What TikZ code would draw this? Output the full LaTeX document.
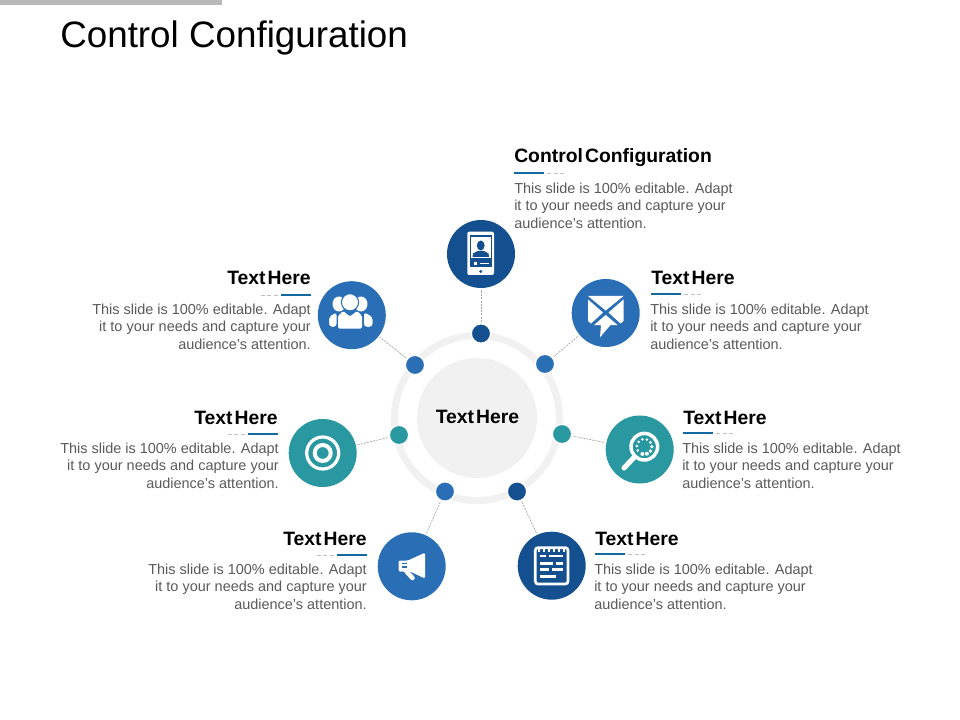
\documentclass[tikz,border=0pt]{standalone}
\usepackage{fontspec}
\setmainfont{Liberation Sans}
\usepackage{xcolor}
\usetikzlibrary{positioning}
\definecolor{navyblue}{HTML}{14508F}
\definecolor{midblue}{HTML}{2A6FB5}
\definecolor{tealblue}{HTML}{2A98A0}
\definecolor{softgray}{HTML}{F1F1F1}
\definecolor{bodygray}{HTML}{5A5A5A}
\tikzset{
    badge/.style={circle, minimum size=51pt, inner sep=0pt, fill=#1}, % the large icon discs
    knob/.style={circle, minimum size=14.5pt, inner sep=0pt, fill=#1, draw=white, line width=1pt}, % small dots on the ring
    link/.style={gray!70, line width=0.5pt, dash pattern=on 1.6pt off 0.8pt, shorten <=1pt, shorten >=1pt},
    headtext/.style={inner sep=0pt, font=\bfseries\fontsize{14.5}{17}\selectfont},
    bodytext/.style={inner sep=0pt, text=bodygray, font=\fontsize{10.85}{13.2}\selectfont},
    headrule/.style={navyblue!85!cyan, line width=0.9pt},
    headdash/.style={gray!50, line width=0.5pt, dash pattern=on 3pt off 2pt},
    icon/.style={white, draw=none},
}
\begin{document}
\begin{tikzpicture}[x=0.75pt,y=-0.75pt]
    \useasboundingbox (0,0) rectangle (960,720);
    \fill[white] (0,0) rectangle (960,720);
    \fill[gray!55] (0,0) rectangle (222,5);
    \node[inner sep=0pt, anchor=base west, font=\fontsize{27.6}{32}\selectfont] (title) at (60,47.5) {Control Configuration};

    % middle of the wheel
    \draw[softgray, line width=5.3pt] (477,418) circle (82.5);
    \node[circle, fill=softgray, minimum size=90pt, inner sep=0pt] (hub) at (477,418) {};
    \node[headtext, anchor=base] (hublabel) at (477.5,423.5) {Text\hspace{1.6pt}Here};

    % discs and dots
    \node[badge=navyblue] (phone) at (481,254) {};
    \node[badge=midblue] (mail) at (605.7,313) {};
    \node[badge=tealblue] (search) at (639.7,449.5) {};
    \node[badge=navyblue] (notes) at (551.7,565.7) {};
    \node[badge=midblue] (horn) at (411.7,566.3) {};
    \node[badge=tealblue] (target) at (322.7,453) {};
    \node[badge=midblue] (people) at (351.8,315.2) {};
    \node[knob=navyblue] (dotphone) at (481,333.5) {};
    \node[knob=midblue] (dotmail) at (545,364) {};
    \node[knob=tealblue] (dotsearch) at (562,434) {};
    \node[knob=navyblue] (dotnotes) at (517,491.5) {};
    \node[knob=midblue] (dothorn) at (445,491.5) {};
    \node[knob=tealblue] (dottarget) at (399,435) {};
    \node[knob=midblue] (dotpeople) at (415,365) {};
    \draw[link] (dotphone) -- (phone);
    \draw[link] (dotmail) -- (mail);
    \draw[link] (dotsearch) -- (search);
    \draw[link] (dotnotes) -- (notes);
    \draw[link] (dothorn) -- (horn);
    \draw[link] (dottarget) -- (target);
    \draw[link] (dotpeople) -- (people);

    % labels on the right
    \node[headtext, anchor=base west] (headphone) at (514,163) {Control\hspace{1.6pt}Configuration};
    \node[bodytext, align=left, anchor=north west] (bodyphone) at (514,182.5) {This slide is 100\% editable. Adapt\\it to your needs and capture your\\audience's attention.};
    \node[headtext, anchor=base west] (headmail) at (651,285) {Text\hspace{1.6pt}Here};
    \node[bodytext, align=left, anchor=north west] (bodymail) at (650,303.5) {This slide is 100\% editable. Adapt\\it to your needs and capture your\\audience's attention.};
    \node[headtext, anchor=base west] (headsearch) at (683,424) {Text\hspace{1.6pt}Here};
    \node[bodytext, align=left, anchor=north west] (bodysearch) at (682,442.5) {This slide is 100\% editable. Adapt\\it to your needs and capture your\\audience's attention.};
    \node[headtext, anchor=base west] (headnotes) at (595,545) {Text\hspace{1.6pt}Here};
    \node[bodytext, align=left, anchor=north west] (bodynotes) at (594,563.5) {This slide is 100\% editable. Adapt\\it to your needs and capture your\\audience's attention.};

    % labels on the left
    \node[headtext, anchor=base east] (headpeople) at (311,285) {Text\hspace{1.6pt}Here};
    \node[bodytext, align=right, anchor=north east] (bodypeople) at (311,303.5) {This slide is 100\% editable. Adapt\\it to your needs and capture your\\audience's attention.};
    \node[headtext, anchor=base east] (headtarget) at (278,424) {Text\hspace{1.6pt}Here};
    \node[bodytext, align=right, anchor=north east] (bodytarget) at (279,442.5) {This slide is 100\% editable. Adapt\\it to your needs and capture your\\audience's attention.};
    \node[headtext, anchor=base east] (headhorn) at (367,545) {Text\hspace{1.6pt}Here};
    \node[bodytext, align=right, anchor=north east] (bodyhorn) at (367,563.5) {This slide is 100\% editable. Adapt\\it to your needs and capture your\\audience's attention.};

    % little rules under the headings
    \foreach \x/\y in {514/173, 651/294, 683/433, 595/554} {
        \draw[headrule] (\x,\y) -- ++(30,0);
        \draw[headdash] (\x+33,\y) -- ++(18,0);
    }
    \foreach \x/\y in {311/295, 278/434, 367/555} {
        \draw[headrule] (\x,\y) -- ++(-30,0);
        \draw[headdash] (\x-33,\y) -- ++(-18,0);
    }

    % phone
    \fill[icon, rounded corners=1.5pt] (467.3,231.7) rectangle (494,275);
    \fill[navyblue] (469.5,235) rectangle (492,267);
    \fill[white] (471,237) rectangle (490.5,258);
    \fill[navyblue] (480.7,245.5) ellipse (3.9 and 5);
    \fill[navyblue] (472.5,257) -- (473,253.5) -- (477.5,251) -- (484,251) -- (488.5,253.5) -- (489,257) -- cycle;
    \fill[white] (473.5,262) rectangle (477,265);
    \draw[white, line width=0.6pt] (480,263.5) -- (489,263.5);
    \fill[navyblue] (480.7,271.5) circle (1.6);

    % envelope
    \fill[icon] (588,296) -- (623.5,296) -- (605.7,310.5) -- cycle;
    \fill[icon] (588,299.5) -- (603,312.5) -- (591,323.5) -- (588,321) -- cycle;
    \fill[icon] (623.5,299.5) -- (608.5,312.5) -- (620.5,323.5) -- (623.5,321) -- cycle;
    \fill[icon] (605.7,315) -- (617.5,325) -- (610.5,325) -- (600,337.3) -- (601,325) -- (594,325) -- cycle;

    % crowd
    \fill[icon] (339,304) ellipse (6.5 and 7.5);
    \fill[icon] (361,304) ellipse (6.5 and 7.5);
    \fill[icon, rounded corners=2pt] (329.3,326.5) -- (329.3,317) -- (336.5,312.5) -- (336.5,326.5) -- cycle;
    \fill[icon, rounded corners=2pt] (372.3,326.5) -- (372.3,317) -- (364,312.5) -- (364,326.5) -- cycle;
    \fill[white, draw=midblue, line width=0.8pt] (350,302.3) circle (8.6);
    \fill[midblue] (335,311.5) -- (365,311.5) -- (365,329) -- (335,329) -- cycle;
    \fill[icon, rounded corners=2pt] (329.3,326.5) -- (329.3,317) -- (336.5,312.5) -- (336.5,326.5) -- cycle;
    \fill[icon, rounded corners=2pt] (372.3,326.5) -- (372.3,317) -- (364,312.5) -- (364,326.5) -- cycle;
    \fill[icon, rounded corners=1pt] (338,328.5) -- (338,316) -- (343,311) -- (350,316.5) -- (357,311) -- (362,316) -- (362,328.5) -- cycle;

    % target
    \draw[white, line width=2.4pt] (322.7,453) circle (16);
    \draw[white, line width=3pt] (322.7,453) circle (8);

    % magnifier
    \draw[white, line width=2.6pt] (644.3,446.7) circle (13.3);
    \draw[white, line width=3.8pt, line cap=round] (634,457.5) -- (624,468);
    \foreach \a/\r in {0/1.8, 35/1.8, 70/2, 105/2, 150/1.4, 185/1.4, 220/1.4, 255/1.4, 290/1.4, 325/1.6} {
        \fill[white] (644.3,446.7) ++(\a:7.5) circle (\r);
    }

    % notepad
    \draw[white, line width=2pt, rounded corners=2pt] (535.3,547.7) rectangle (568,584);
    \foreach \x in {538.5,543.5,...,565} {
        \fill[white] (\x-1,548) rectangle (\x+1,552);
    }
    \fill[white] (540,554.5) rectangle (546,557);
    \fill[white] (549,554.5) rectangle (562.7,557);
    \fill[white] (540,562) rectangle (553,564.5);
    \fill[white] (556,562) rectangle (562.7,564.5);
    \fill[white] (540,568) rectangle (549,570.5);
    \fill[white] (552,568) rectangle (562.7,570.5);
    \fill[white] (540,575) rectangle (556,577.5);

    % megaphone
    \fill[icon, rounded corners=1pt] (398.5,560.5) -- (408,560.5) -- (425,552.7) -- (425,578.5) -- (410,571.5) -- (398.5,571.5) -- cycle;
    \draw[white, line width=3.4pt, line cap=round] (406.5,571.5) -- (412.5,578);
    \draw[midblue, line width=0.8pt] (401.7,563.7) -- (407,563.7);
    \draw[midblue, line width=0.8pt] (401.7,567) -- (407,567);
\end{tikzpicture}
\end{document}
